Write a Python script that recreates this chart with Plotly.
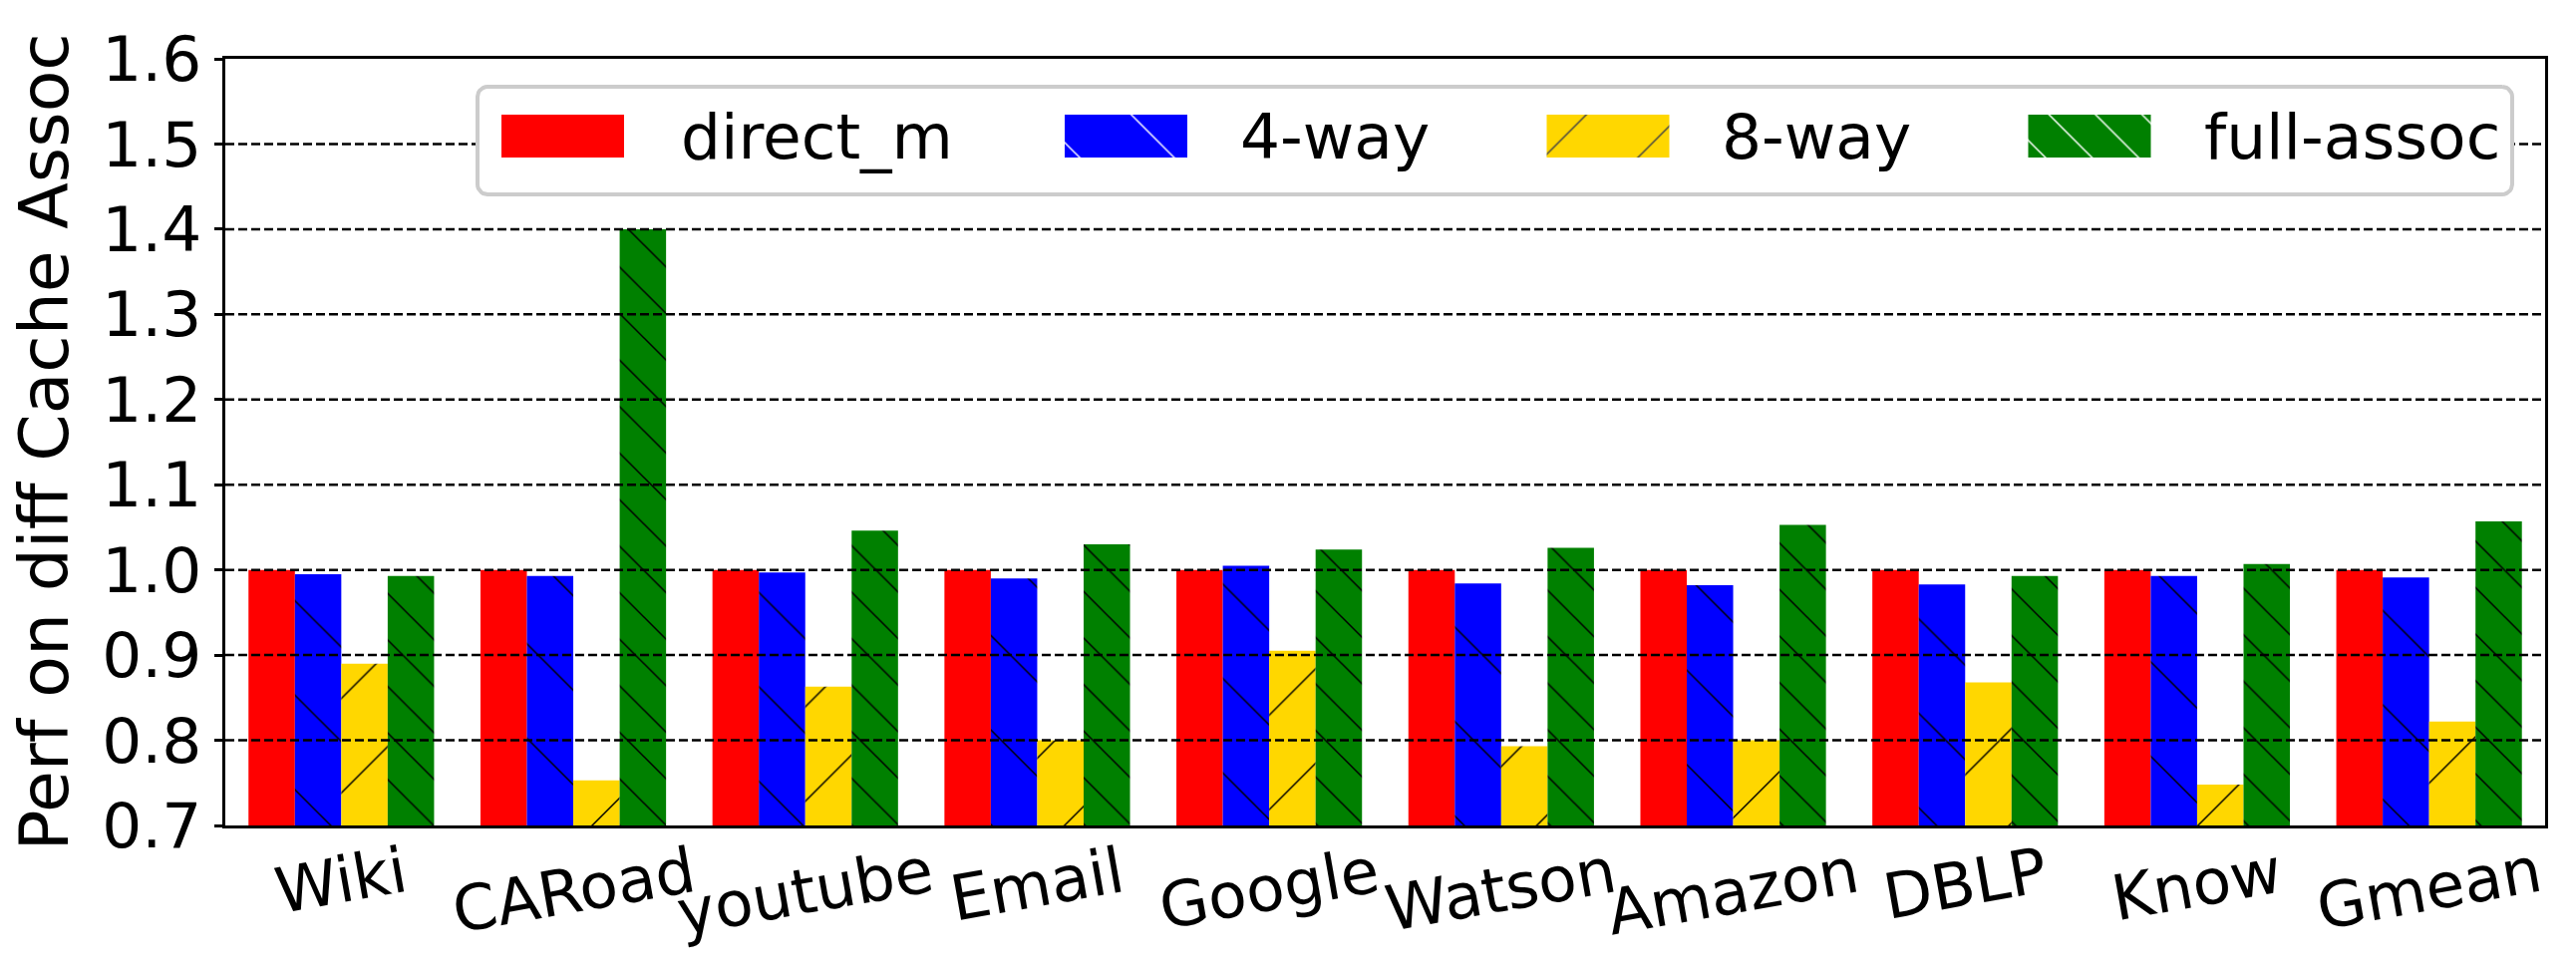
import numpy as np
import plotly.graph_objects as go

# values
categories = ["Wiki", "CARoad", "youtube", "Email", "Google",
              "Watson", "Amazon", "DBLP", "Know", "Gmean"]
direct_m = [1.000, 1.000, 1.000, 1.000, 1.000, 1.000, 1.000, 1.000, 1.000, 1.000]
four_way = [0.995, 0.993, 0.997, 0.990, 1.005, 0.984, 0.982, 0.983, 0.993, 0.991]
eight_way = [0.890, 0.753, 0.863, 0.800, 0.905, 0.793, 0.800, 0.868, 0.748, 0.822]
full_assoc = [0.993, 1.400, 1.046, 1.030, 1.024, 1.026, 1.053, 0.993, 1.007, 1.057]

series_names = ["direct_m", "4-way", "8-way", "full-assoc"]
series_values = [direct_m, four_way, eight_way, full_assoc]
yticks = [0.7, 0.8, 0.9, 1.0, 1.1, 1.2, 1.3, 1.4, 1.5, 1.6]

# styling
colors = ["#ff0000", "#0000ff", "#ffd700", "#008000"]
hatches = ["", "\\", "/", "\\"]
hatch_size = [67, 67, 67, 33]
hatch_solid = [0.02, 0.022, 0.022, 0.045]
FONT = "DejaVu Sans"
FS = 63

# page and plot-area geometry in pixels
W, H = 2584, 979
L, R, T, B = 226, 2553, 59, 828

# hand-made legend (pixel coords inside the plot area)
leg_box = (479, 2520, 87, 195)
leg_patch_cx = [564.5, 1129.5, 1613, 2096]
leg_patch_w, leg_patch_top, leg_patch_h = 123, 115, 43
leg_text_x = [681, 1242, 1725, 2209]
leg_text_y = 137

fig = go.Figure()

for name, vals, col, hs, hz, sol in zip(series_names, series_values, colors,
                                        hatches, hatch_size, hatch_solid):
    fig.add_trace(go.Bar(
        x=categories, y=vals, name=name,
        marker=dict(color=col, line_width=0,
                    pattern=dict(shape=hs, size=hz, solidity=sol,
                                 fillmode="overlay", fgcolor="black", fgopacity=1)),
        showlegend=False, hoverinfo="skip"))

# dashed grid on top of the bars
gx, gy = [], []
for v in yticks[1:-1]:
    gx += [L, R, None]
    gy += [v, v, None]
fig.add_trace(go.Scatter(x=gx, y=gy, xaxis="x2", yaxis="y", mode="lines",
                         line=dict(color="black", width=2.5, dash="9px,4px"),
                         showlegend=False, hoverinfo="skip"))

# legend frame with rounded corners
x0, x1, y0, y1 = leg_box
rad = 10
fx, fy = [], []
for cx, cy, a0 in [(x1 - rad, y0 + rad, -90), (x1 - rad, y1 - rad, 0),
                   (x0 + rad, y1 - rad, 90), (x0 + rad, y0 + rad, 180)]:
    a = np.radians(np.linspace(a0, a0 + 90, 8))
    fx += list(cx + rad * np.cos(a))
    fy += list(cy + rad * np.sin(a))
fx.append(fx[0])
fy.append(fy[0])
fig.add_trace(go.Scatter(x=fx, y=fy, xaxis="x2", yaxis="y2", mode="lines",
                         fill="toself", fillcolor="white",
                         line=dict(color="#cccccc", width=4),
                         showlegend=False, hoverinfo="skip"))

# legend patches
fig.add_trace(go.Bar(
    x=leg_patch_cx, y=[leg_patch_h] * 4, base=[leg_patch_top] * 4,
    width=[leg_patch_w] * 4, xaxis="x3", yaxis="y2",
    marker=dict(color=colors, line_width=0,
                pattern=dict(shape=hatches, size=hatch_size, solidity=hatch_solid,
                             fillmode="overlay", fgcolor="black", fgopacity=1)),
    showlegend=False, hoverinfo="skip"))

annotations = []
for name, tx in zip(series_names, leg_text_x):
    annotations.append(dict(x=tx, y=leg_text_y, xref="x2", yref="y2", text=name,
                            showarrow=False, xanchor="left", yanchor="middle",
                            font=dict(family=FONT, size=FS, color="black")))
for c in categories:
    annotations.append(dict(x=c, y=0, xref="x", yref="paper", text=c,
                            showarrow=False, xanchor="center", yanchor="top",
                            textangle=-10, yshift=-6,
                            font=dict(family=FONT, size=FS, color="black")))

fig.update_layout(
    width=W, height=H,
    margin=dict(l=L, r=W - R, t=T, b=H - B),
    paper_bgcolor="white", plot_bgcolor="white",
    barmode="group", bargap=0.2, bargroupgap=0,
    font=dict(family=FONT, size=FS, color="black"),
    xaxis=dict(type="category", range=[-0.5, len(categories) - 0.5],
               showticklabels=False, ticks="", showgrid=False, zeroline=False,
               showline=True, mirror=True, linecolor="black", linewidth=3),
    yaxis=dict(range=[yticks[0], yticks[-1]], tickvals=yticks, tickformat=".1f",
               ticks="outside", ticklen=8, tickwidth=3, tickcolor="black",
               showgrid=False, zeroline=False,
               showline=True, mirror=True, linecolor="black", linewidth=3,
               tickfont=dict(family=FONT, size=FS),
               title=dict(text="Perf on diff Cache Assoc", standoff=12,
                          font=dict(family=FONT, size=68))),
    xaxis2=dict(overlaying="x", range=[L, R], visible=False),
    yaxis2=dict(overlaying="y", range=[B, T], visible=False),
    xaxis3=dict(overlaying="x", range=[L, R], visible=False),
    annotations=annotations,
)

# drop the browser's default body margin so the figure sits at the page origin
fig.write_html("out.html", config={"displayModeBar": False},
               post_script="document.body.style.margin='0';")
